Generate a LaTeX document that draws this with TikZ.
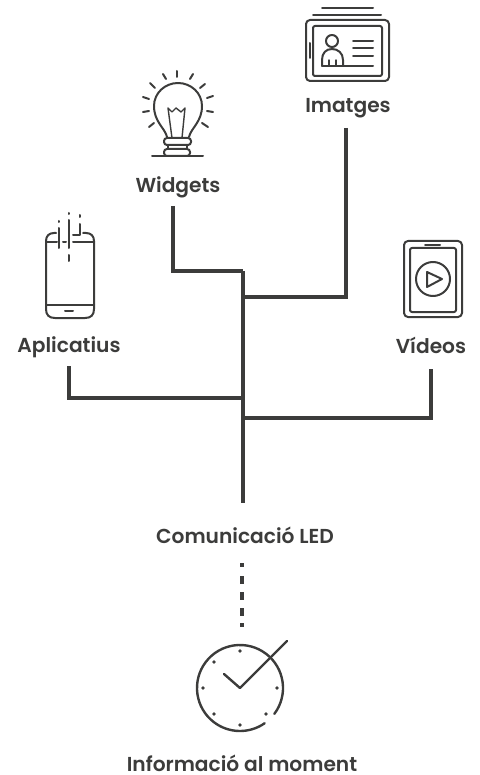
\documentclass[tikz,border=0pt]{standalone}
\usepackage{fontspec}
\setmainfont{Poppins SemiBold}
\usepackage{tikz}
\usetikzlibrary{calc,positioning}
\definecolor{ink}{HTML}{3C3C3B}

\begin{document}
\begin{tikzpicture}[
  x=1pt, y=-1pt,
  tag/.style={font=\fontsize{20.2}{24}\selectfont, text=ink, inner sep=0pt, anchor=base},
  wire/.style={draw=ink, line width=3.4pt},
  dotwire/.style={draw=ink, line width=4pt},
  icon/.style={draw=ink, line width=2pt, line cap=round, line join=round},
  fine/.style={draw=ink, line width=1.4pt, line cap=round, line join=round},
]
\useasboundingbox (0,0) rectangle (479,775);

% etiquetes
\node[tag] (imatges) at (348,113) {Imatges};
\node[tag] (widgets) at (178,193) {Widgets};
\node[tag] (aplicatius) at (69,352) {Aplicatius};
\node[tag] (videos) at (431,353) {Vídeos};
\node[tag] (led) at (245,543) {Comunicació LED};
\node[tag] (moment) at (242,771) {Informació al moment};

% unions
\coordinate (j1) at (243,271);
\coordinate (j2) at (243,297);
\coordinate (j3) at (243,398);
\coordinate (j4) at (243,418);
\coordinate (end) at (243,503);

% connexions
\draw[wire] (346,128) |- (j2);
\draw[wire] (173,206) |- (j1);
\draw[wire] (69,366) |- (j3);
\draw[wire] (431,369) |- (j4);
\draw[wire] (j1) -- (end);
\draw[dotwire] (242,563) -- ++(0,4) (242,576) -- ++(0,8) (242,592) -- ++(0,8) (242,608) -- ++(0,8) (242,623) -- ++(0,4);

% imatges
\draw[icon] (322,8) -- (373,8);
\draw[icon] (313,15) -- (381,15);
\draw[icon, rounded corners=4pt] (306,20) rectangle (389,81);
\draw[icon, rounded corners=2pt] (313,26) rectangle (382,76);
\draw[icon] (310,43) -- (310,58);
\draw[icon] (322,66) -- (373,66);
\draw[icon] (353,41) -- (373,41) (353,48) -- (373,48) (353,56) -- (373,56);
\draw[icon] (332,41) circle (6);
\draw[icon] (322,66) -- (322,60) .. controls (322,53) and (326,49) .. (332,49) .. controls (338,49) and (343,53) .. (343,60) -- (343,66);
\draw[fine] (329,60) -- (329,66) (336,60) -- (336,66);

% widgets
\draw[icon] (167,137) .. controls (165,128) and (154,122) .. (154,106) .. controls (154,93) and (165,83) .. (178,83) .. controls (191,83) and (202,93) .. (202,106) .. controls (202,122) and (191,128) .. (189,137);
\draw[fine] (172,138) -- (168,108) -- (172,112) -- (176,108) -- (181,112) -- (185,108) -- (182,138);
\draw[icon, rounded corners=3pt] (164,138) rectangle (191,145);
\draw[icon] (168,145) -- (168,149) (187,145) -- (187,149);
\draw[icon, rounded corners=3pt] (164,149) -- (164,156) -- (190,156) -- (190,149) -- cycle;
\draw[icon] (152,156) -- (203,156);
\draw[icon] (177,71) -- (177,77);
\draw[icon] (163,74) -- (166,79) (193,74) -- (190,79);
\draw[icon] (150,83) -- (155,88) (205,84) -- (200,88);
\draw[icon] (143,97) -- (149,99) (213,96) -- (207,98);
\draw[icon] (143,112) -- (149,111) (213,112) -- (207,111);
\draw[icon] (149,127) -- (154,123) (208,127) -- (202,123);

% aplicatius
\draw[icon] (56,233) -- (54,233) .. controls (49,233) and (46,236) .. (46,241) -- (46,309) .. controls (46,315) and (49,318) .. (55,318) -- (85,318) .. controls (91,318) and (94,315) .. (94,309) -- (94,241) .. controls (94,236) and (91,233) .. (86,233) -- (83,233);
\draw[icon] (46,242) -- (57,242) (63,242) -- (66,242) (73,242) -- (94,242);
\draw[icon] (46,305) -- (94,305);
\draw[icon] (65,311) -- (73,311);
\draw[icon] (59,228) -- (59,248) (59,221) -- (59,222);
\draw[icon] (69,220) -- (69,248) (69,213) -- (69,214) (69,255) -- (69,261);
\draw[icon] (80,224) -- (80,235) -- (73,235) (80,215) -- (80,217);

% videos
\draw[icon, rounded corners=4pt] (404,241) rectangle (462,317);
\draw[icon, rounded corners=2pt] (410,248) rectangle (456,312);
\draw[icon] (425,245) -- (440,245);
\draw[icon] (433,279) circle (17);
\draw[icon] (427,272) -- (442,279) -- (427,287) -- cycle;

% rellotge
\draw[icon, line width=2.4pt] (240,688) ++(37:43) arc (37:-305:43);
\draw[icon, line width=2.4pt] (224,674) -- (240,688) -- (287,641);
\foreach \tx/\ty in {240/651,240/725,203/688,277/688,214/662,214/714,266/714}
  \fill[ink] (\tx,\ty) circle (1.8);
\end{tikzpicture}
\end{document}
